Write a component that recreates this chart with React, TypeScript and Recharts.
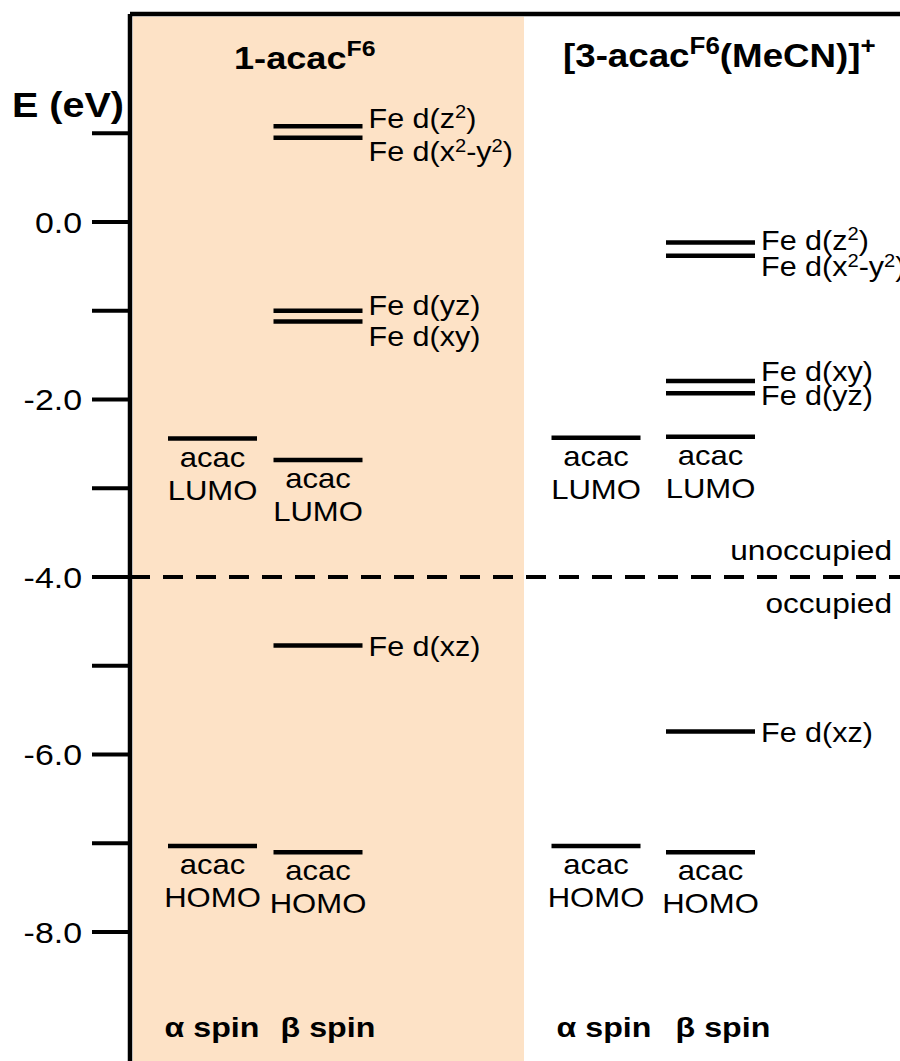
import React from 'react';
import {
  ScatterChart,
  Scatter,
  XAxis,
  YAxis,
  ReferenceArea,
  ReferenceLine,
} from 'recharts';

const FONT = '"Liberation Sans", Arial, Helvetica, sans-serif';
// the lettering in the original is a bit wider than Arial
const SX = 1.13;

// energy axis (eV)
const yTicks = [1, 0, -1, -2, -3, -4, -5, -6, -7, -8];
const yMin = -9.453;
const yMax = 2.344;
const fermiE = -4.0;

// 1-acacF6
const acacAlphaE = [-2.44, -7.03];
const acacAlphaLabels = ['acac LUMO', 'acac HOMO'];
const acacBetaE = [1.08, 0.95, -1.0, -1.12, -2.68, -4.77, -7.1];
const acacBetaLabels = ['Fe d(z²)', 'Fe d(x²-y²)', 'Fe d(yz)', 'Fe d(xy)', 'acac LUMO', 'Fe d(xz)', 'acac HOMO'];

// [3-acacF6(MeCN)]+
const mecnAlphaE = [-2.43, -7.03];
const mecnAlphaLabels = ['acac LUMO', 'acac HOMO'];
const mecnBetaE = [-0.23, -0.38, -1.79, -1.93, -2.42, -5.74, -7.1];
const mecnBetaLabels = ['Fe d(z²)', 'Fe d(x²-y²)', 'Fe d(xy)', 'Fe d(yz)', 'acac LUMO', 'Fe d(xz)', 'acac HOMO'];

const spinLabels = ['α spin', 'β spin', 'α spin', 'β spin'];

// layout: hidden x axis, 100 px per unit
const X_MAX = 7.7;
const colX = [0.825, 1.88, 4.66, 5.805];
const shadeEnd = 3.94;
const spinX = [212, 328, 604, 723];
// vertical nudge of the Fe labels (px) so paired labels don't collide
const labelNudge: Record<string, number> = {
  '1-0': -8, '1-1': 14, '1-2': -6, '1-3': 15,
  '3-0': -2, '3-1': 11, '3-2': -10, '3-3': 2,
};

const toPoints = (col: number, es: number[], labels: string[]) =>
  es.map((e, i) => ({ x: colX[col], e, label: labels[i], key: `${col}-${i}` }));

const points = [
  ...toPoints(0, acacAlphaE, acacAlphaLabels),
  ...toPoints(1, acacBetaE, acacBetaLabels),
  ...toPoints(2, mecnAlphaE, mecnAlphaLabels),
  ...toPoints(3, mecnBetaE, mecnBetaLabels),
];

// text stretched horizontally around its anchor point
const SText = ({ x, y, children, ...rest }: any) => (
  <text transform={`translate(${x},${y}) scale(${SX},1)`} x={0} y={0} fontFamily={FONT} fill="#000" {...rest}>
    {children}
  </text>
);

// split on ² and draw it as a raised small 2
const rich = (s: string, size: number) => {
  const parts = s.split('²');
  const out: React.ReactNode[] = [];
  parts.forEach((p, i) => {
    if (i > 0) {
      out.push(
        <tspan key={`s${i}`} fontSize={size * 0.66} dy={-size * 0.36}>2</tspan>
      );
      out.push(<tspan key={`p${i}`} dy={size * 0.36}>{p}</tspan>);
    } else {
      out.push(<tspan key={`p${i}`}>{p}</tspan>);
    }
  });
  return out;
};

const Level = (props: any) => {
  const { cx, cy, payload } = props;
  if (cx == null || cy == null) return null;
  const half = 44.5;
  const label: string = payload.label;
  let txt;
  if (label.startsWith('acac')) {
    txt = (
      <g>
        <SText x={cx} y={cy + 28} fontSize={27.5} textAnchor="middle">acac</SText>
        <SText x={cx} y={cy + 61} fontSize={27.5} textAnchor="middle">{label.split(' ')[1]}</SText>
      </g>
    );
  } else {
    const fs = 27;
    const nudge = labelNudge[payload.key] ?? 1;
    txt = (
      <SText x={cx + half + 6} y={cy + nudge + fs * 0.36} fontSize={fs}>
        {rich(label, fs)}
      </SText>
    );
  }
  return (
    <g>
      <line x1={cx - half} x2={cx + half} y1={cy} y2={cy} stroke="#000" strokeWidth={4.5} />
      {txt}
    </g>
  );
};

const Tick = (props: any) => {
  const { x, y, payload } = props;
  const v = payload.value as number;
  if (v % 2 !== 0) return <g />;
  return (
    <SText x={x} y={y} dy="0.355em" fontSize={30} textAnchor="end">
      {v.toFixed(1)}
    </SText>
  );
};

const App = () => {
  return (
    <div style={{ position: 'absolute', left: 0, top: 0, width: 900, height: 1061, background: '#fff', overflow: 'hidden' }}>
      <ScatterChart width={900} height={1061} margin={{ top: 13, right: 0, bottom: 0, left: 0 }}>
        <ReferenceArea
          x1={0.03}
          x2={shadeEnd}
          y1={yMin}
          y2={yMax - 0.03}
          fill="#FDE2C6"
          fillOpacity={1}
          stroke="none"
          ifOverflow="visible"
        />
        <XAxis
          type="number"
          dataKey="x"
          domain={[0, X_MAX]}
          orientation="top"
          height={1}
          tick={false}
          tickLine={false}
          axisLine={{ stroke: '#000', strokeWidth: 4.5 }}
          allowDataOverflow
        />
        <YAxis
          type="number"
          dataKey="e"
          domain={[yMin, yMax]}
          ticks={yTicks}
          interval={0}
          width={130}
          tickSize={38}
          tickMargin={10}
          tickLine={{ stroke: '#000', strokeWidth: 4 }}
          axisLine={{ stroke: '#000', strokeWidth: 4.5 }}
          tick={<Tick />}
          allowDataOverflow
        />
        <ReferenceLine y={fermiE} stroke="#000" strokeWidth={4} strokeDasharray="20 13" />
        <Scatter data={points} shape={<Level />} isAnimationActive={false} />
      </ScatterChart>
      <svg
        width={900}
        height={1061}
        style={{ position: 'absolute', left: 0, top: 0, pointerEvents: 'none' }}
      >
        <SText x={12} y={117} fontSize={35} fontWeight="bold">E (eV)</SText>
        <SText x={234} y={69} fontSize={32} fontWeight="bold">
          1-acac<tspan fontSize={22} dy={-13}>F6</tspan>
        </SText>
        <SText x={563} y={67} fontSize={32.5} fontWeight="bold">
          [3-acac<tspan fontSize={23} dy={-13}>F6</tspan>
          <tspan dy={13}>(MeCN)]</tspan>
          <tspan fontSize={23} dy={-13}>+</tspan>
        </SText>
        <SText x={892} y={560} fontSize={28} textAnchor="end">unoccupied</SText>
        <SText x={892} y={613} fontSize={28} textAnchor="end">occupied</SText>
        {spinLabels.map((s, i) => (
          <SText key={i} x={spinX[i]} y={1037} fontSize={28.5} fontWeight="bold" textAnchor="middle">
            {s}
          </SText>
        ))}
      </svg>
    </div>
  );
};

export default App;
